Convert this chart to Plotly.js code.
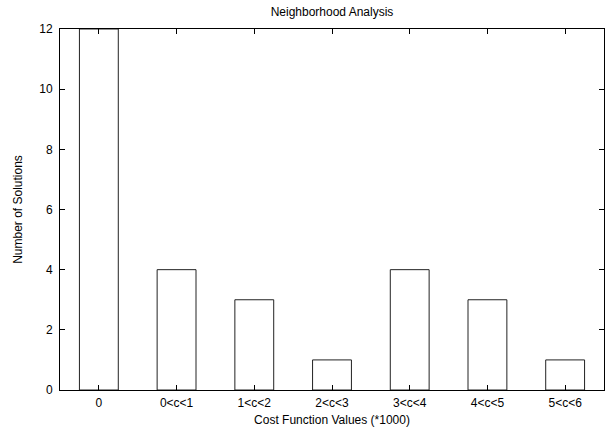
<!DOCTYPE html>
<html>
<head>
<meta charset="utf-8">
<script src="https://cdn.plot.ly/plotly-3.0.1.min.js"></script>
<style>html,body{margin:0;padding:0;background:#fff;}#chart{width:607px;height:429px;}</style>
</head>
<body>
<div id="chart"></div>
<script>
var categories = ['0', '0<c<1', '1<c<2', '2<c<3', '3<c<4', '4<c<5', '5<c<6'];
var solutions = [12, 4, 3, 1, 4, 3, 1];
var yTicks = [0, 2, 4, 6, 8, 10, 12];

var font = {family: 'Liberation Sans, Arial, sans-serif', size: 12, color: '#000'};

var trace = {
  type: 'bar',
  x: categories,
  y: solutions,
  width: 0.5,
  marker: {color: 'rgba(0,0,0,0)', line: {color: '#222', width: 1}},
  hoverinfo: 'x+y'
};

var layout = {
  width: 607, height: 429,
  margin: {l: 60, r: 3, t: 29, b: 39, pad: 0},
  paper_bgcolor: '#fff', plot_bgcolor: '#fff',
  font: font,
  showlegend: false,
  title: {text: 'Neighborhood Analysis', font: font, x: 0.5, xref: 'paper', y: 1 - 12 / 429, yref: 'container', yanchor: 'middle'},
  xaxis: {
    type: 'category', range: [-0.5, 6.5],
    showgrid: false, zeroline: false,
    showline: true, linecolor: '#000', linewidth: 1, mirror: 'ticks',
    ticks: 'inside', ticklen: 5, tickcolor: '#000', tickwidth: 1,
    tickfont: font, ticklabelstandoff: 2,
    title: {text: 'Cost Function Values (*1000)', font: font, standoff: 6},
    automargin: false
  },
  yaxis: {
    range: [0, 12], tickvals: yTicks, ticktext: yTicks.map(String),
    showgrid: false, zeroline: false,
    showline: true, linecolor: '#000', linewidth: 1, mirror: 'ticks',
    ticks: 'inside', ticklen: 5, tickcolor: '#000', tickwidth: 1,
    tickfont: font, ticklabelstandoff: 4,
    title: {text: 'Number of Solutions', font: font, standoff: 14},
    automargin: false
  }
};

Plotly.newPlot('chart', [trace], layout, {displayModeBar: false, staticPlot: true});
</script>
</body>
</html>
